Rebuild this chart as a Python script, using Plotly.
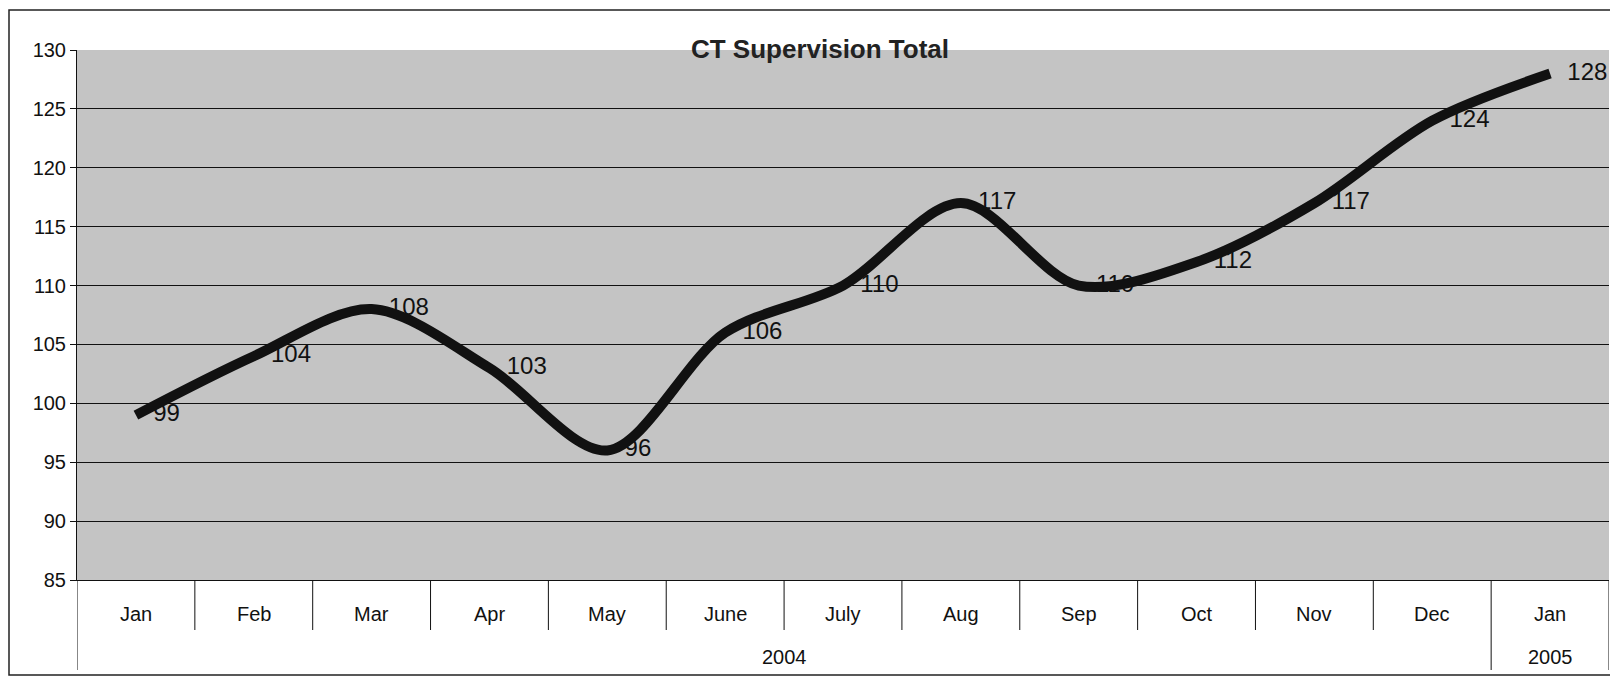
import plotly.graph_objects as go

months = ["Jan", "Feb", "Mar", "Apr", "May", "June", "July", "Aug", "Sep", "Oct", "Nov", "Dec", "Jan"]
years = ["2004"] * 12 + ["2005"]
values = [99, 104, 108, 103, 96, 106, 110, 117, 110, 112, 117, 124, 128]
title = "CT Supervision Total"

FONT = "Liberation Sans, Arial, sans-serif"
INK = "#111111"

# the page body has an 8px margin; lay the figure out in page pixels
OFF = 8
W, H = 1618 - 2 * OFF, 685 - 2 * OFF
PLOT_L, PLOT_R, PLOT_T, PLOT_B = 77, 1609, 50, 580   # page pixels
L = PLOT_L - OFF
R = W - (PLOT_R - OFF)
T = PLOT_T - OFF
B = H - (PLOT_B - OFF)
pw = W - L - R
ph = H - T - B

def px_x(px):
    return (px - OFF - L) / pw

def px_y(py):
    return (H - B - (py - OFF)) / ph

xs = list(range(len(months)))

fig = go.Figure()
fig.add_trace(go.Scatter(
    x=xs,
    y=values,
    mode="lines+markers+text",
    line=dict(color=INK, width=10, shape="spline", smoothing=0.9),
    marker=dict(size=26, color="rgba(0,0,0,0)"),
    text=[str(v) for v in values],
    textposition="middle right",
    textfont=dict(family=FONT, size=24, color=INK),
    cliponaxis=False,
    showlegend=False,
    hoverinfo="x+y",
))

fig.update_layout(
    width=W, height=H,
    margin=dict(l=L, r=R, t=T, b=B, autoexpand=False),
    paper_bgcolor="white",
    plot_bgcolor="#c4c4c4",
    font=dict(family=FONT, color=INK),
    title=dict(
        text="<b>" + title + "</b>",
        x=px_x(820), xref="paper", xanchor="center",
        y=1 - (49 - OFF) / H, yref="container", yanchor="middle",
        font=dict(family=FONT, size=26, color="#222222"),
    ),
)

fig.update_yaxes(
    range=[85, 130],
    dtick=5,
    tick0=85,
    showgrid=True,
    gridcolor=INK,
    gridwidth=1,
    showline=True,
    linecolor=INK,
    linewidth=1,
    ticks="outside",
    ticklen=6,
    tickcolor=INK,
    tickfont=dict(family=FONT, size=20, color=INK),
    zeroline=False,
    automargin=False,
)

fig.update_xaxes(
    range=[-0.5, len(months) - 0.5],
    tickvals=xs,
    ticktext=months,
    ticks="",
    showticklabels=False,
    showgrid=False,
    zeroline=False,
    showline=True,
    linecolor=INK,
    linewidth=1,
    automargin=False,
)

# category table under the plot: month labels
for i, m in enumerate(months):
    fig.add_annotation(
        x=i, y=px_y(614), xref="x", yref="paper",
        text=m, showarrow=False,
        font=dict(family=FONT, size=20, color=INK),
        xanchor="center", yanchor="middle",
    )

# boundaries between months (short) and between year groups / edges (long)
for i in range(len(months) + 1):
    xb = i - 0.5
    is_edge = i == 0 or i == len(months) or years[i] != years[i - 1]
    fig.add_shape(
        type="line", xref="x", yref="paper",
        x0=xb, x1=xb, y0=0, y1=px_y(670 if is_edge else 630),
        line=dict(color=INK, width=1),
    )

# year group labels
groups = []
for i, yv in enumerate(years):
    if groups and groups[-1][0] == yv:
        groups[-1][2] = i
    else:
        groups.append([yv, i, i])
for yv, a, b in groups:
    fig.add_annotation(
        x=(a + b) / 2, y=px_y(657), xref="x", yref="paper",
        text=yv, showarrow=False,
        font=dict(family=FONT, size=20, color=INK),
        xanchor="center", yanchor="middle",
    )

# outer chart border (right side runs off the page, as in the scan)
fig.add_shape(
    type="rect", xref="paper", yref="paper",
    x0=px_x(9), x1=px_x(1640),
    y0=px_y(675), y1=px_y(10),
    line=dict(color="#222222", width=1.5),
    fillcolor="rgba(0,0,0,0)",
    layer="below",
)

fig.write_html("out.html")
